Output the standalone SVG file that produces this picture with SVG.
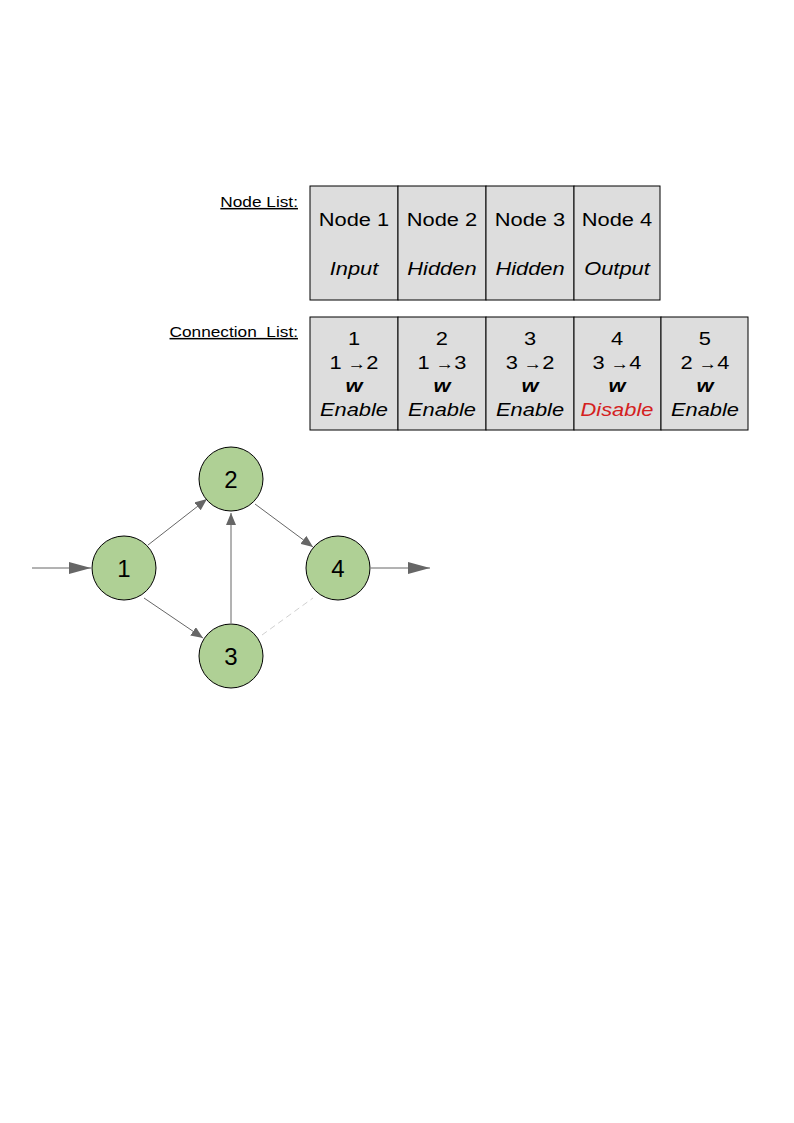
<svg xmlns="http://www.w3.org/2000/svg" width="794" height="1123" viewBox="0 0 794 1123">
<style>
text{font-family:"Liberation Sans",Arial,sans-serif;fill:#000}
.lbl{font-size:15px;text-decoration:underline;text-anchor:end}
.cell{fill:#dddddd;stroke:#000;stroke-width:1}
.t{font-size:19px;text-anchor:middle}
.i{font-style:italic}
.b{font-style:italic;font-weight:bold}
.node circle{fill:#afd095;stroke:#000;stroke-width:1}
.node text{font-size:24px;text-anchor:middle}
.e{stroke:#666;stroke-width:1;fill:none}
</style>
<defs>
<marker id="a" viewBox="0 0 12 10" refX="12" refY="5" markerWidth="12" markerHeight="10" markerUnits="userSpaceOnUse" orient="auto"><path d="M0,0L12,5L0,10Z" fill="#666"/></marker>
<marker id="big" viewBox="0 0 22 12" refX="22" refY="6" markerWidth="22" markerHeight="12" markerUnits="userSpaceOnUse" orient="auto"><path d="M0,0L22,6L0,12Z" fill="#666"/></marker>
</defs>
<g id="nodelist">
<rect class="cell" x="310" y="186" width="88" height="114"/>
<rect class="cell" x="398" y="186" width="88" height="114"/>
<rect class="cell" x="486" y="186" width="88" height="114"/>
<rect class="cell" x="574" y="186" width="86" height="114"/>
<g transform="scale(1.15,1)">
<text class="lbl" x="259.1" y="207">Node List:</text>
<text class="t" x="307.8" y="226">Node 1</text>
<text class="t" x="384.3" y="226">Node 2</text>
<text class="t" x="460.9" y="226">Node 3</text>
<text class="t" x="536.5" y="226">Node 4</text>
<text class="t i" x="307.8" y="275">Input</text>
<text class="t i" x="384.3" y="275">Hidden</text>
<text class="t i" x="460.9" y="275">Hidden</text>
<text class="t i" x="536.5" y="275">Output</text>
</g>
</g>
<g id="connlist">
<rect class="cell" x="310" y="317" width="88" height="113"/>
<rect class="cell" x="398" y="317" width="88" height="113"/>
<rect class="cell" x="486" y="317" width="88" height="113"/>
<rect class="cell" x="574" y="317" width="87" height="113"/>
<rect class="cell" x="661" y="317" width="87" height="113"/>
<g transform="scale(1.15,1)">
<text class="lbl" x="259.1" y="337" xml:space="preserve">Connection  List:</text>
<text class="t" x="307.8" y="345">1</text>
<text class="t" x="384.3" y="345">2</text>
<text class="t" x="460.9" y="345">3</text>
<text class="t" x="536.5" y="345">4</text>
<text class="t" x="613" y="345">5</text>
<text class="t" x="307.8" y="369">1 <tspan font-size="16">→</tspan>2</text>
<text class="t" x="384.3" y="369">1 <tspan font-size="16">→</tspan>3</text>
<text class="t" x="460.9" y="369">3 <tspan font-size="16">→</tspan>2</text>
<text class="t" x="536.5" y="369">3 <tspan font-size="16">→</tspan>4</text>
<text class="t" x="613" y="369">2 <tspan font-size="16">→</tspan>4</text>
<text class="t b" x="307.8" y="392">w</text>
<text class="t b" x="384.3" y="392">w</text>
<text class="t b" x="460.9" y="392">w</text>
<text class="t b" x="536.5" y="392">w</text>
<text class="t b" x="613" y="392">w</text>
<text class="t i" x="307.8" y="416">Enable</text>
<text class="t i" x="384.3" y="416">Enable</text>
<text class="t i" x="460.9" y="416">Enable</text>
<text class="t i" x="536.5" y="416" style="fill:#d42020">Disable</text>
<text class="t i" x="613" y="416">Enable</text>
</g>
</g>
<g id="connectors">
<line class="e" x1="32" y1="568" x2="91" y2="568" stroke-width="1.5" marker-end="url(#big)"/>
<line class="e" x1="371" y1="568" x2="430" y2="568" stroke-width="1.5" marker-end="url(#big)"/>
<line class="e" x1="148" y1="545" x2="207" y2="499" marker-end="url(#a)"/>
<line class="e" x1="144" y1="598" x2="203" y2="638" marker-end="url(#a)"/>
<line class="e" x1="231" y1="623" x2="231" y2="513" marker-end="url(#a)"/>
<line class="e" x1="255" y1="504" x2="313" y2="547" marker-end="url(#a)"/>
<line class="e" x1="262" y1="635" x2="313" y2="598" style="stroke:#d0d0d0" stroke-dasharray="6,4"/>
</g>
<g id="n1" class="node"><circle cx="124" cy="568" r="32"/><text x="124" y="577">1</text></g>
<g id="n2" class="node"><circle cx="231" cy="479" r="32"/><text x="231" y="488">2</text></g>
<g id="n3" class="node"><circle cx="231" cy="656" r="32"/><text x="231" y="665">3</text></g>
<g id="n4" class="node"><circle cx="338" cy="568" r="32"/><text x="338" y="577">4</text></g>
</svg>
